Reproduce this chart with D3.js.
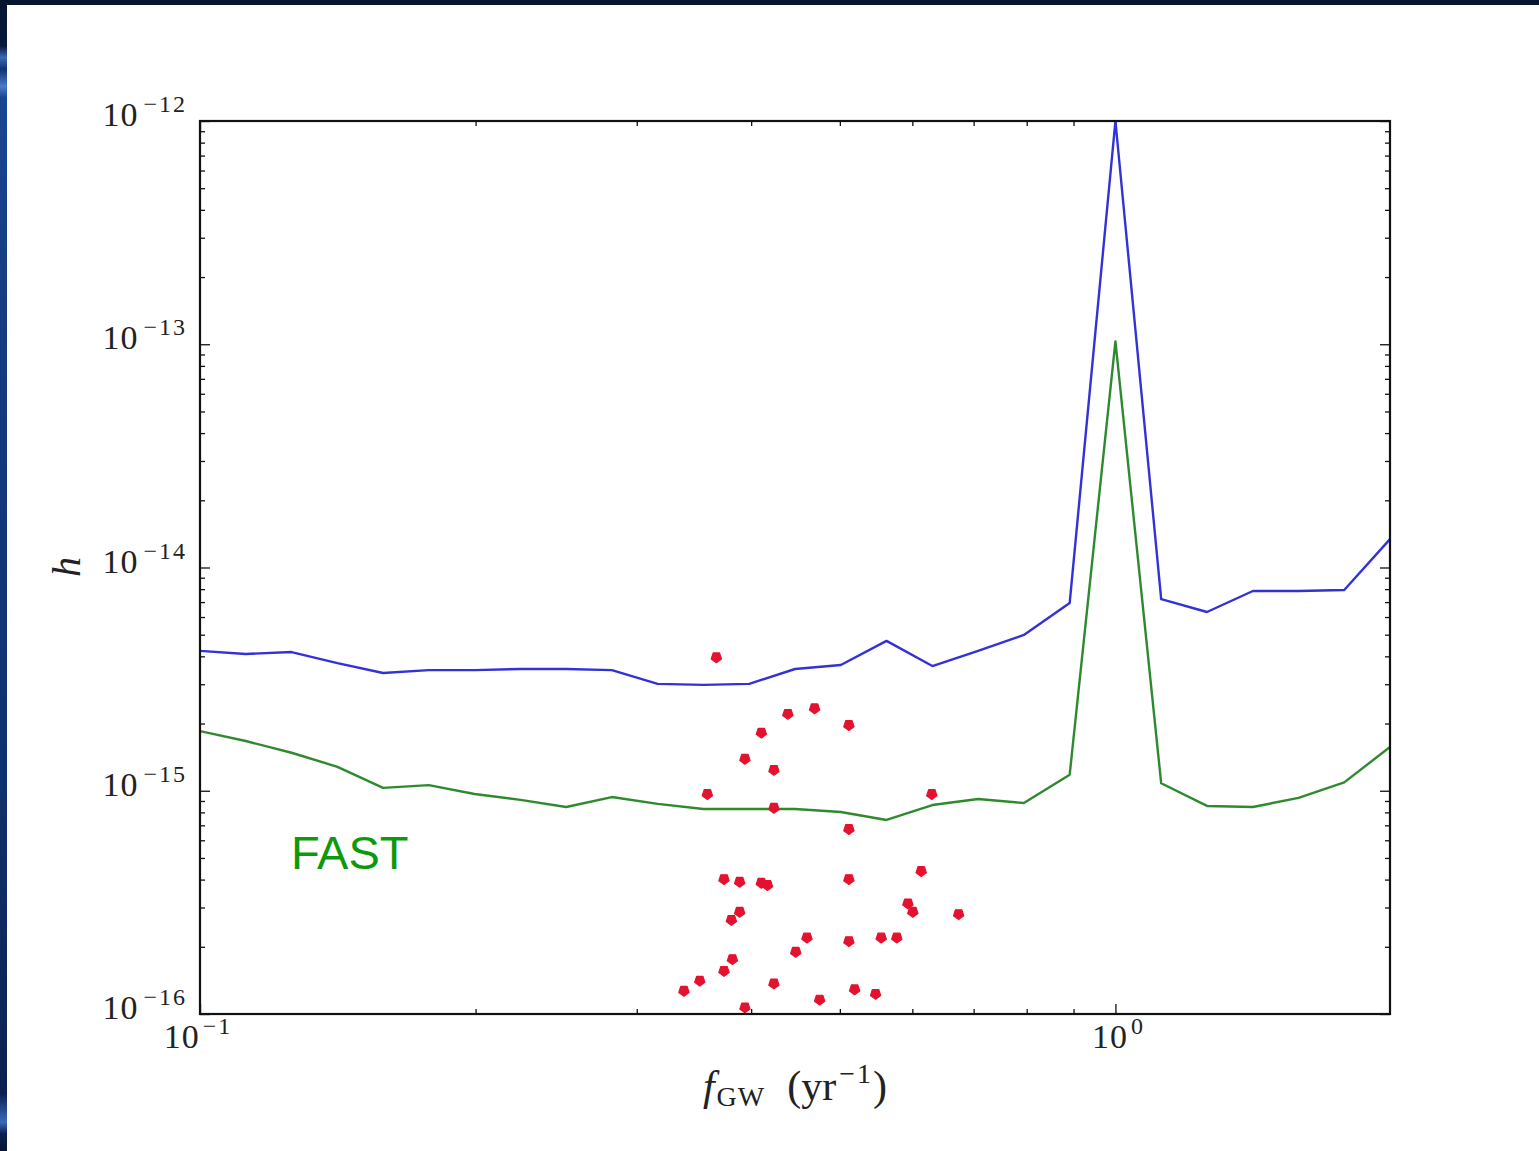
<!DOCTYPE html>
<html>
<head>
<meta charset="utf-8">
<script src="https://cdn.jsdelivr.net/npm/d3@7"></script>
<style>
  html, body { margin: 0; padding: 0; background: #fff; }
  svg { display: block; }
</style>
</head>
<body>
<svg id="chart" width="1539" height="1151"></svg>
<script>
// ---------- DATA ----------
const freqs = [0.1, 0.1122, 0.1259, 0.1413, 0.1585, 0.1778, 0.1995, 0.2239, 0.2512, 0.2818,
               0.3162, 0.3548, 0.3981, 0.4467, 0.5012, 0.5623, 0.6310, 0.7079, 0.7943, 0.8913,
               1.0, 1.122, 1.259, 1.413, 1.585, 1.778, 1.995];
const hBlue = [4.23e-15, 4.10e-15, 4.18e-15, 3.73e-15, 3.37e-15, 3.47e-15, 3.47e-15, 3.51e-15, 3.51e-15, 3.47e-15,
               3.01e-15, 2.98e-15, 3.01e-15, 3.51e-15, 3.66e-15, 4.69e-15, 3.62e-15, 4.23e-15, 4.99e-15, 6.93e-15,
               1.0e-12, 7.22e-15, 6.32e-15, 7.85e-15, 7.85e-15, 7.93e-15, 1.34e-14];
const hGreen = [1.85e-15, 1.67e-15, 1.48e-15, 1.28e-15, 1.03e-15, 1.06e-15, 9.67e-16, 9.10e-16, 8.46e-16, 9.37e-16,
                8.73e-16, 8.28e-16, 8.28e-16, 8.28e-16, 8.03e-16, 7.40e-16, 8.63e-16, 9.18e-16, 8.81e-16, 1.18e-15,
                1.03e-13, 1.08e-15, 8.55e-16, 8.46e-16, 9.29e-16, 1.09e-15, 1.57e-15];
const pulsarF = [0.3665, 0.4387, 0.4692, 0.5115, 0.4104, 0.3938, 0.4236, 0.3583, 0.6301, 0.4236,
                 0.5115, 0.3736, 0.3886, 0.4104, 0.4168, 0.5115, 0.6135, 0.3886, 0.3806, 0.5933,
                 0.6007, 0.6741, 0.4603, 0.4475, 0.5115, 0.5548, 0.5770, 0.3816, 0.3736, 0.3515,
                 0.3378, 0.4236, 0.5189, 0.5470, 0.4752, 0.3938];
const pulsarH = [3.96e-15, 2.21e-15, 2.34e-15, 1.97e-15, 1.82e-15, 1.39e-15, 1.24e-15, 9.67e-16, 9.67e-16, 8.39e-16,
                 6.74e-16, 4.02e-16, 3.91e-16, 3.87e-16, 3.78e-16, 4.02e-16, 4.37e-16, 2.87e-16, 2.64e-16, 3.13e-16,
                 2.87e-16, 2.80e-16, 2.20e-16, 1.90e-16, 2.12e-16, 2.20e-16, 2.20e-16, 1.76e-16, 1.56e-16, 1.41e-16,
                 1.27e-16, 1.37e-16, 1.29e-16, 1.23e-16, 1.16e-16, 1.07e-16];
const xMajorTicks = [0.1, 1];
const xTickExps = ["\u22121", "0"];
const yMajorTicks = [1e-12, 1e-13, 1e-14, 1e-15, 1e-16];
const yTickExps = ["\u221212", "\u221213", "\u221214", "\u221215", "\u221216"];
const xDomain = [0.1, 1.995];
const yDomain = [1e-16, 1e-12];
const annotation = "FAST";

// ---------- LAYOUT ----------
const svg = d3.select("#chart");
const W = 1539, H = 1151;
const L = 200, R = 1390, T = 121, B = 1014;

// slide background border
const defs = svg.append("defs");
const lg = defs.append("linearGradient").attr("id", "leftStrip").attr("x1", 0).attr("y1", 0).attr("x2", 0).attr("y2", 1);
[[0, "#061530"], [0.04, "#07183a"], [0.05, "#3a6ab8"], [0.06, "#10306e"], [0.075, "#4a7ac8"], [0.085, "#1a4590"],
 [0.3, "#143a80"], [0.7, "#10306a"], [0.95, "#0a2050"], [0.975, "#3a6ab8"], [0.985, "#0a2050"], [1, "#061530"]]
  .forEach(([o, c]) => lg.append("stop").attr("offset", o).attr("stop-color", c));
svg.append("rect").attr("x", 0).attr("y", 0).attr("width", W).attr("height", H).attr("fill", "#fff");
svg.append("rect").attr("x", 0).attr("y", 0).attr("width", 7).attr("height", H).attr("fill", "url(#leftStrip)");
svg.append("rect").attr("x", 0).attr("y", 0).attr("width", W).attr("height", 5).attr("fill", "#061530");

const x = d3.scaleLog().domain(xDomain).range([L, R]);
const y = d3.scaleLog().domain(yDomain).range([B, T]);

// minor ticks
function minorTicks(domain) {
  const out = [];
  const lo = Math.floor(Math.log10(domain[0])), hi = Math.ceil(Math.log10(domain[1]));
  for (let e = lo; e <= hi; e++) {
    for (let m = 2; m <= 9; m++) {
      const v = m * Math.pow(10, e);
      if (v > domain[0] * 1.0001 && v < domain[1] * 0.9999) out.push(v);
    }
  }
  return out;
}
const xMinor = minorTicks(xDomain);
const yMinor = minorTicks(yDomain);

const axisColor = "#111";
function styleAxis(g) {
  g.select(".domain").remove();
  g.selectAll("line").attr("stroke", axisColor).attr("stroke-width", 1.3);
  g.selectAll("text").remove();
}
// bottom
svg.append("g").attr("transform", `translate(0,${B})`)
  .call(d3.axisBottom(x).tickValues(xMajorTicks).tickSize(-10).tickFormat("")).call(styleAxis);
svg.append("g").attr("transform", `translate(0,${B})`)
  .call(d3.axisBottom(x).tickValues(xMinor).tickSize(-5).tickFormat("")).call(styleAxis);
// top
svg.append("g").attr("transform", `translate(0,${T})`)
  .call(d3.axisTop(x).tickValues(xMajorTicks).tickSize(-10).tickFormat("")).call(styleAxis);
svg.append("g").attr("transform", `translate(0,${T})`)
  .call(d3.axisTop(x).tickValues(xMinor).tickSize(-5).tickFormat("")).call(styleAxis);
// left
svg.append("g").attr("transform", `translate(${L},0)`)
  .call(d3.axisLeft(y).tickValues(yMajorTicks).tickSize(-10).tickFormat("")).call(styleAxis);
svg.append("g").attr("transform", `translate(${L},0)`)
  .call(d3.axisLeft(y).tickValues(yMinor).tickSize(-5).tickFormat("")).call(styleAxis);
// right
svg.append("g").attr("transform", `translate(${R},0)`)
  .call(d3.axisRight(y).tickValues(yMajorTicks).tickSize(-10).tickFormat("")).call(styleAxis);
svg.append("g").attr("transform", `translate(${R},0)`)
  .call(d3.axisRight(y).tickValues(yMinor).tickSize(-5).tickFormat("")).call(styleAxis);

// clip
defs.append("clipPath").attr("id", "plotClip").append("rect")
  .attr("x", L).attr("y", T - 1).attr("width", R - L).attr("height", B - T + 2);

const plot = svg.append("g").attr("clip-path", "url(#plotClip)");
const line = d3.line().x(d => x(d[0])).y(d => y(d[1]));

plot.append("path").datum(freqs.map((f, i) => [f, hGreen[i]]))
  .attr("d", line).attr("fill", "none").attr("stroke", "#2f8a2f").attr("stroke-width", 2.4).attr("stroke-linejoin", "round");
plot.append("path").datum(freqs.map((f, i) => [f, hBlue[i]]))
  .attr("d", line).attr("fill", "none").attr("stroke", "#3232d8").attr("stroke-width", 2.4).attr("stroke-linejoin", "round");

// pulsar markers (downward pointing pentagon)
function pentPath(r) {
  const pts = [];
  for (let k = 0; k < 5; k++) {
    const a = Math.PI / 2 + k * 2 * Math.PI / 5; // point down
    pts.push([r * Math.cos(a), r * Math.sin(a)]);
  }
  return "M" + pts.map(p => p[0].toFixed(2) + "," + p[1].toFixed(2)).join("L") + "Z";
}
plot.selectAll(".psr").data(pulsarF.map((f, i) => [f, pulsarH[i]])).enter().append("path")
  .attr("class", "psr")
  .attr("transform", d => `translate(${x(d[0])},${y(d[1])})`)
  .attr("d", pentPath(5.4))
  .attr("fill", "#e4122f").attr("stroke", "#e4122f").attr("stroke-width", 1.2).attr("stroke-linejoin", "round");

// frame
svg.append("rect").attr("x", L).attr("y", T).attr("width", R - L).attr("height", B - T)
  .attr("fill", "none").attr("stroke", axisColor).attr("stroke-width", 2.2);

// tick labels
const serif = "'Liberation Serif', 'DejaVu Serif', serif";
const txtColor = "#222";
yMajorTicks.forEach((v, i) => {
  const t = svg.append("text").attr("x", 187).attr("y", y(v) + 5)
    .attr("text-anchor", "end").attr("font-family", serif).attr("fill", txtColor);
  t.append("tspan").attr("font-size", 34).attr("letter-spacing", 1).text("10");
  t.append("tspan").attr("font-size", 24).attr("dx", 5).attr("dy", -14).attr("letter-spacing", 2).text(yTickExps[i]);
});
xMajorTicks.forEach((v, i) => {
  const t = svg.append("text").attr("x", x(v) + (i === 0 ? -2 : 3)).attr("y", 1048)
    .attr("text-anchor", "middle").attr("font-family", serif).attr("fill", txtColor);
  t.append("tspan").attr("font-size", 34).attr("letter-spacing", 1).text("10");
  t.append("tspan").attr("font-size", 24).attr("dx", 3).attr("dy", -14).attr("letter-spacing", 2).text(xTickExps[i]);
});

// axis labels
const xl = svg.append("text").attr("x", 795).attr("y", 1100).attr("text-anchor", "middle")
  .attr("font-family", serif).attr("fill", txtColor);
xl.append("tspan").attr("font-size", 42).attr("font-style", "italic").text("f");
xl.append("tspan").attr("font-size", 28).attr("dy", 6).attr("dx", 2).attr("letter-spacing", 1).text("GW");
xl.append("tspan").attr("font-size", 42).attr("dy", -6).attr("dx", 22).text("(yr");
xl.append("tspan").attr("font-size", 28).attr("dy", -17).attr("dx", 3).attr("letter-spacing", 2).text("\u22121");
xl.append("tspan").attr("font-size", 42).attr("dy", 17).text(")");

svg.append("text").attr("transform", "translate(80,567) rotate(-90)")
  .attr("text-anchor", "middle").attr("font-family", serif).attr("font-style", "italic")
  .attr("font-size", 40).attr("fill", txtColor).text("h");

// annotation
svg.append("text").attr("x", 291).attr("y", 869).attr("font-family", "'Liberation Sans', Arial, sans-serif")
  .attr("font-size", 47).attr("fill", "#0c9a0c").text(annotation);
</script>
</body>
</html>
